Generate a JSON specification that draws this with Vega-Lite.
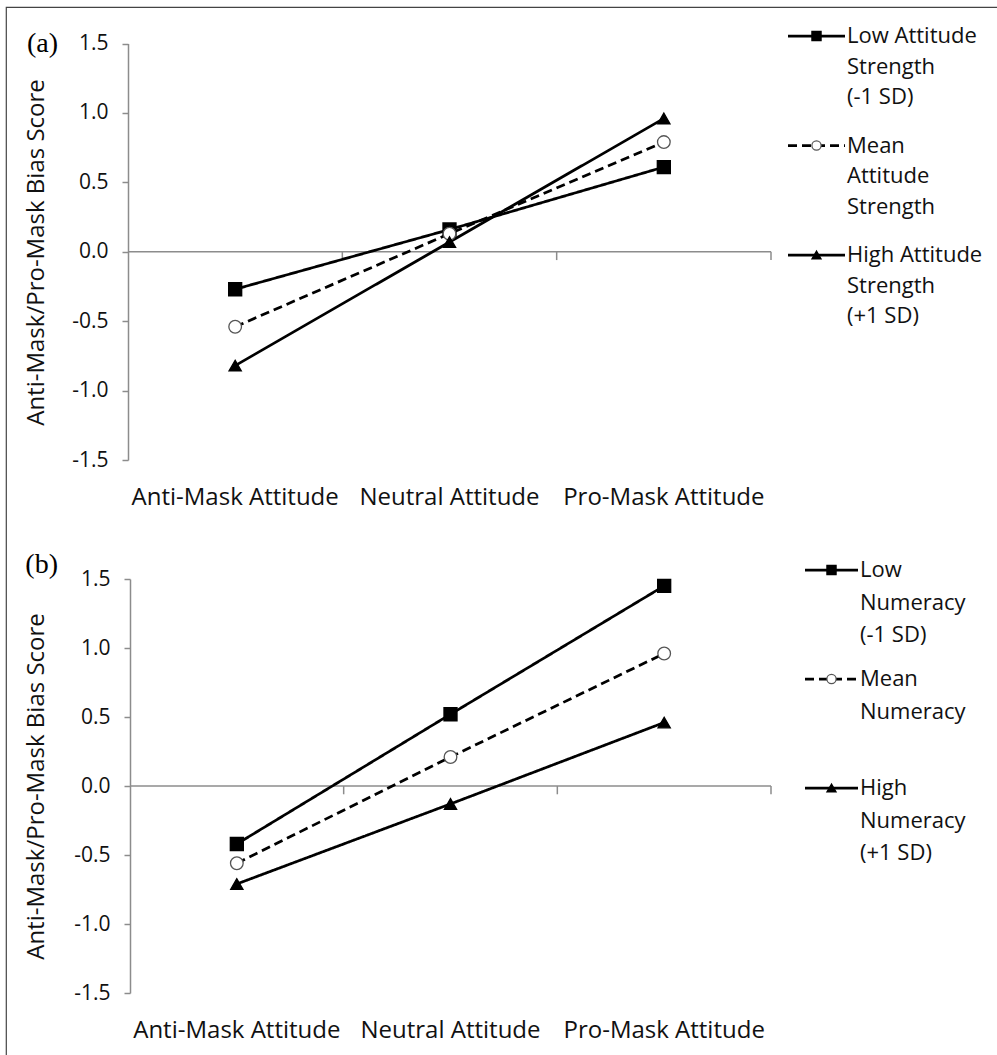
{
  "$schema": "https://vega.github.io/schema/vega-lite/v6.json",
  "width": 991,
  "height": 1048,
  "autosize": {"type": "none"},
  "padding": {"left": 6, "top": 7, "right": 0, "bottom": 0},
  "background": "white",
  "config": {
    "view": {"stroke": "#444444", "strokeWidth": 1.2, "strokeDash": [991, 2039, 1048]},
    "font": "Open Sans"
  },
  "datasets": {
    "scores": [
      {"panel": "a", "series": "Low", "attitude": "Anti-Mask Attitude", "score": -0.27},
      {"panel": "a", "series": "Low", "attitude": "Neutral Attitude", "score": 0.16},
      {"panel": "a", "series": "Low", "attitude": "Pro-Mask Attitude", "score": 0.61},
      {"panel": "a", "series": "Mean", "attitude": "Anti-Mask Attitude", "score": -0.54},
      {"panel": "a", "series": "Mean", "attitude": "Neutral Attitude", "score": 0.13},
      {"panel": "a", "series": "Mean", "attitude": "Pro-Mask Attitude", "score": 0.79},
      {"panel": "a", "series": "High", "attitude": "Anti-Mask Attitude", "score": -0.82},
      {"panel": "a", "series": "High", "attitude": "Neutral Attitude", "score": 0.07},
      {"panel": "a", "series": "High", "attitude": "Pro-Mask Attitude", "score": 0.96},
      {"panel": "b", "series": "Low", "attitude": "Anti-Mask Attitude", "score": -0.42},
      {"panel": "b", "series": "Low", "attitude": "Neutral Attitude", "score": 0.52},
      {"panel": "b", "series": "Low", "attitude": "Pro-Mask Attitude", "score": 1.45},
      {"panel": "b", "series": "Mean", "attitude": "Anti-Mask Attitude", "score": -0.56},
      {"panel": "b", "series": "Mean", "attitude": "Neutral Attitude", "score": 0.21},
      {"panel": "b", "series": "Mean", "attitude": "Pro-Mask Attitude", "score": 0.96},
      {"panel": "b", "series": "High", "attitude": "Anti-Mask Attitude", "score": -0.71},
      {"panel": "b", "series": "High", "attitude": "Neutral Attitude", "score": -0.13},
      {"panel": "b", "series": "High", "attitude": "Pro-Mask Attitude", "score": 0.46}
    ],
    "legend": [
      {"panel": "a", "series": "Low", "label": "Low Attitude\nStrength\n(-1 SD)"},
      {"panel": "a", "series": "Mean", "label": "Mean\nAttitude\nStrength"},
      {"panel": "a", "series": "High", "label": "High Attitude\nStrength\n(+1 SD)"},
      {"panel": "b", "series": "Low", "label": "Low\nNumeracy\n(-1 SD)"},
      {"panel": "b", "series": "Mean", "label": "Mean\nNumeracy"},
      {"panel": "b", "series": "High", "label": "High\nNumeracy\n(+1 SD)"}
    ],
    "tags": [
      {"panel": "a", "label": "(a)"},
      {"panel": "b", "label": "(b)"}
    ]
  },
  "layer": [
    {
      "layer": [
        {
          "data": {"values": [{"line": "zero"}]},
          "mark": {"type": "rule", "color": "#8c8c8c", "strokeWidth": 1.5},
          "encoding": {
            "x": {"datum": 0, "type": "quantitative", "scale": {"domain": [0, 3], "range": [122, 765], "nice": false, "zero": false}, "axis": null},
            "x2": {"datum": 3},
            "y": {"datum": 0, "type": "quantitative"}
          }
        },
        {
          "data": {"name": "tags"},
          "transform": [{"filter": "datum.panel === 'a'"}],
          "mark": {"type": "text", "font": "Liberation Serif", "fontSize": 28, "align": "right", "baseline": "middle", "dx": -70, "color": "black"},
          "encoding": {
            "x": {"datum": 0, "type": "quantitative", "scale": {"domain": [0, 3], "range": [122, 765], "nice": false, "zero": false}, "axis": null},
            "y": {"datum": 1.5, "type": "quantitative"},
            "text": {"field": "label"}
          }
        },
        {
          "data": {"name": "scores"},
          "transform": [{"filter": "datum.panel === 'a'"}],
          "encoding": {
            "x": {
              "field": "attitude", "type": "nominal", "bandPosition": 0.5,
              "scale": {"type": "band", "domain": ["Anti-Mask Attitude", "Neutral Attitude", "Pro-Mask Attitude"], "range": [122, 765], "paddingInner": 0, "paddingOuter": 0},
              "axis": {"orient": "bottom", "offset": -595, "domain": false, "ticks": false, "tickSize": 0, "labelPadding": 37, "labelBaseline": "middle", "labelAngle": 0, "labelFontSize": 24, "labelColor": "#111111", "labelLimit": 400, "title": null, "grid": false}
            },
            "y": {
              "field": "score", "type": "quantitative",
              "scale": {"domain": [-1.5, 1.5], "range": [453, 36.5], "nice": false, "zero": false},
              "axis": {"orient": "left", "offset": -122, "values": [-1.5, -1, -0.5, 0, 0.5, 1, 1.5], "labelExpr": "datum.value < 0 ? '-' + format(-datum.value, '.1f') : format(datum.value, '.1f')", "domainColor": "#8c8c8c", "domainWidth": 1.5, "tickColor": "#8c8c8c", "tickWidth": 1.5, "tickSize": 6, "labelFontSize": 21, "labelColor": "#111111", "labelPadding": 14, "grid": false, "title": "Anti-Mask/Pro-Mask Bias Score", "titleFontSize": 24, "titleFontWeight": "normal", "titleColor": "#111111", "titleX": -92, "titleY": 245, "titleAngle": 270, "titleAlign": "center", "titleBaseline": "middle"}
            }
          },
          "layer": [
            {
              "transform": [{"filter": "datum.series === 'Low'"}],
              "mark": {"type": "rule", "color": "#8c8c8c", "strokeWidth": 1.5},
              "encoding": {
                "x": {"field": "attitude", "type": "nominal", "bandPosition": 1},
                "y": {"datum": 0, "type": "quantitative"},
                "y2": {"datum": -0.06}
              }
            },
            {
              "mark": {"type": "line", "color": "black", "strokeWidth": 2.75, "strokeCap": "butt"},
              "encoding": {
                "strokeDash": {"field": "series", "type": "nominal", "scale": {"domain": ["Low", "Mean", "High"], "range": [[1, 0], [9, 5], [1, 0]]}, "legend": null}
              }
            },
            {
              "mark": {"type": "point", "strokeWidth": 1.3, "opacity": 1},
              "encoding": {
                "shape": {"field": "series", "type": "nominal", "scale": {"domain": ["Low", "Mean", "High"], "range": ["square", "circle", "triangle-up"]}, "legend": null},
                "fill": {"field": "series", "type": "nominal", "scale": {"domain": ["Low", "Mean", "High"], "range": ["black", "white", "black"]}, "legend": null},
                "stroke": {"field": "series", "type": "nominal", "scale": {"domain": ["Low", "Mean", "High"], "range": ["black", "#555555", "black"]}, "legend": null},
                "size": {"field": "series", "type": "nominal", "scale": {"domain": ["Low", "Mean", "High"], "range": [170, 150, 200]}, "legend": null}
              }
            }
          ]
        }
      ],
      "resolve": {"scale": {"x": "independent"}, "axis": {"x": "independent"}}
    },
    {
      "layer": [
        {
          "data": {"values": [{"line": "zero"}]},
          "mark": {"type": "rule", "color": "#8c8c8c", "strokeWidth": 1.5},
          "encoding": {
            "x": {"datum": 0, "type": "quantitative", "scale": {"domain": [0, 3], "range": [124, 765], "nice": false, "zero": false}, "axis": null},
            "x2": {"datum": 3},
            "y": {"datum": 0, "type": "quantitative"}
          }
        },
        {
          "data": {"name": "tags"},
          "transform": [{"filter": "datum.panel === 'b'"}],
          "mark": {"type": "text", "font": "Liberation Serif", "fontSize": 28, "align": "right", "baseline": "middle", "dx": -72, "dy": -14, "color": "black"},
          "encoding": {
            "x": {"datum": 0, "type": "quantitative", "scale": {"domain": [0, 3], "range": [124, 765], "nice": false, "zero": false}, "axis": null},
            "y": {"datum": 1.5, "type": "quantitative"},
            "text": {"field": "label"}
          }
        },
        {
          "data": {"name": "scores"},
          "transform": [{"filter": "datum.panel === 'b'"}],
          "encoding": {
            "x": {
              "field": "attitude", "type": "nominal", "bandPosition": 0.5,
              "scale": {"type": "band", "domain": ["Anti-Mask Attitude", "Neutral Attitude", "Pro-Mask Attitude"], "range": [124, 765], "paddingInner": 0, "paddingOuter": 0},
              "axis": {"orient": "bottom", "offset": -62, "domain": false, "ticks": false, "tickSize": 0, "labelPadding": 37, "labelBaseline": "middle", "labelAngle": 0, "labelFontSize": 24, "labelColor": "#111111", "labelLimit": 400, "title": null, "grid": false}
            },
            "y": {
              "field": "score", "type": "quantitative",
              "scale": {"domain": [-1.5, 1.5], "range": [986, 572], "nice": false, "zero": false},
              "axis": {"orient": "left", "offset": -124, "values": [-1.5, -1, -0.5, 0, 0.5, 1, 1.5], "labelExpr": "datum.value < 0 ? '-' + format(-datum.value, '.1f') : format(datum.value, '.1f')", "domainColor": "#8c8c8c", "domainWidth": 1.5, "tickColor": "#8c8c8c", "tickWidth": 1.5, "tickSize": 6, "labelFontSize": 21, "labelColor": "#111111", "labelPadding": 14, "grid": false, "title": "Anti-Mask/Pro-Mask Bias Score", "titleFontSize": 24, "titleFontWeight": "normal", "titleColor": "#111111", "titleX": -94, "titleY": 779, "titleAngle": 270, "titleAlign": "center", "titleBaseline": "middle"}
            }
          },
          "layer": [
            {
              "transform": [{"filter": "datum.series === 'Low'"}],
              "mark": {"type": "rule", "color": "#8c8c8c", "strokeWidth": 1.5},
              "encoding": {
                "x": {"field": "attitude", "type": "nominal", "bandPosition": 1},
                "y": {"datum": 0, "type": "quantitative"},
                "y2": {"datum": -0.06}
              }
            },
            {
              "mark": {"type": "line", "color": "black", "strokeWidth": 2.75, "strokeCap": "butt"},
              "encoding": {
                "strokeDash": {"field": "series", "type": "nominal", "scale": {"domain": ["Low", "Mean", "High"], "range": [[1, 0], [9, 5], [1, 0]]}, "legend": null}
              }
            },
            {
              "mark": {"type": "point", "strokeWidth": 1.3, "opacity": 1},
              "encoding": {
                "shape": {"field": "series", "type": "nominal", "legend": null},
                "fill": {"field": "series", "type": "nominal", "legend": null},
                "stroke": {"field": "series", "type": "nominal", "legend": null},
                "size": {"field": "series", "type": "nominal", "legend": null}
              }
            }
          ]
        }
      ],
      "resolve": {"scale": {"x": "independent"}, "axis": {"x": "independent"}}
    },
    {
      "data": {"name": "legend"},
      "transform": [{"filter": "datum.panel === 'a'"}],
      "encoding": {
        "y": {"field": "series", "type": "nominal", "scale": {"type": "point", "domain": ["Low", "Mean", "High"], "range": [29, 248], "padding": 0}, "axis": null}
      },
      "layer": [
        {
          "mark": {"type": "rule", "color": "black", "strokeWidth": 2.75, "strokeCap": "butt"},
          "encoding": {
            "x": {"datum": 0, "type": "quantitative", "scale": {"domain": [0, 1], "range": [782, 839], "nice": false, "zero": false}, "axis": null},
            "x2": {"datum": 1},
            "strokeDash": {"field": "series", "type": "nominal", "legend": null}
          }
        },
        {
          "mark": {"type": "point", "strokeWidth": 1.2, "opacity": 1, "size": 85},
          "encoding": {
            "x": {"datum": 0.5, "type": "quantitative"},
            "shape": {"field": "series", "type": "nominal", "legend": null},
            "fill": {"field": "series", "type": "nominal", "legend": null},
            "stroke": {"field": "series", "type": "nominal", "legend": null}
          }
        },
        {
          "mark": {"type": "text", "align": "left", "baseline": "top", "dx": 2, "dy": -10, "fontSize": 22, "lineBreak": "\n", "lineHeight": 30.5, "color": "#111111"},
          "encoding": {
            "x": {"datum": 1, "type": "quantitative"},
            "text": {"field": "label"}
          }
        }
      ]
    },
    {
      "data": {"name": "legend"},
      "transform": [{"filter": "datum.panel === 'b'"}],
      "encoding": {
        "y": {"field": "series", "type": "nominal", "scale": {"type": "point", "domain": ["Low", "Mean", "High"], "range": [563, 781], "padding": 0}, "axis": null}
      },
      "layer": [
        {
          "mark": {"type": "rule", "color": "black", "strokeWidth": 2.75, "strokeCap": "butt"},
          "encoding": {
            "x": {"datum": 0, "type": "quantitative", "scale": {"domain": [0, 1], "range": [799, 852], "nice": false, "zero": false}, "axis": null},
            "x2": {"datum": 1},
            "strokeDash": {"field": "series", "type": "nominal", "legend": null}
          }
        },
        {
          "mark": {"type": "point", "strokeWidth": 1.2, "opacity": 1, "size": 85},
          "encoding": {
            "x": {"datum": 0.5, "type": "quantitative"},
            "shape": {"field": "series", "type": "nominal", "legend": null},
            "fill": {"field": "series", "type": "nominal", "legend": null},
            "stroke": {"field": "series", "type": "nominal", "legend": null}
          }
        },
        {
          "mark": {"type": "text", "align": "left", "baseline": "top", "dx": 2, "dy": -10, "fontSize": 22, "lineBreak": "\n", "lineHeight": 32.5, "color": "#111111"},
          "encoding": {
            "x": {"datum": 1, "type": "quantitative"},
            "text": {"field": "label"}
          }
        }
      ]
    }
  ],
  "resolve": {"scale": {"x": "independent", "y": "independent"}, "axis": {"x": "independent", "y": "independent"}}
}
